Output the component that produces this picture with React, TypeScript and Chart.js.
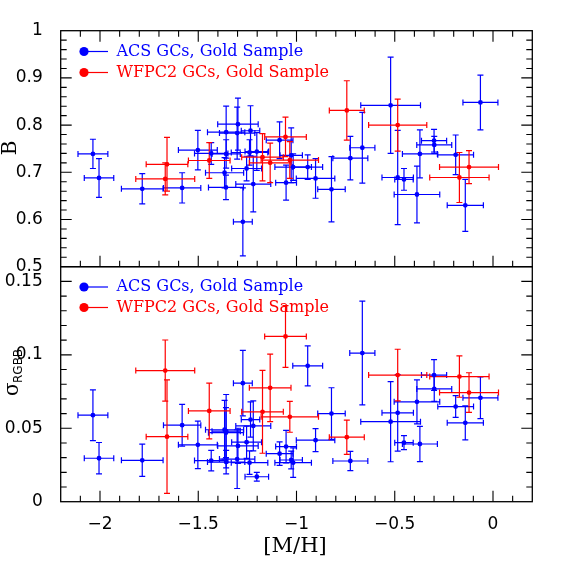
import React, { useEffect, useRef } from 'react';
import { Chart, registerables } from 'chart.js';

Chart.register(...registerables);

// ---------------- data ----------------
const X_TICKS = [-2, -1.5, -1, -0.5, 0];
const B_TICKS = [0.5, 0.6, 0.7, 0.8, 0.9, 1];
const SIG_TICKS = [0, 0.05, 0.1, 0.15];

const ACS_MH = [-2.036, -2.005, -1.785, -1.582, -1.502, -1.434, -1.366, -1.359, -1.358, -1.358, -1.298, -1.302, -1.234, -1.239, -1.202, -1.254, -1.22, -1.273, -1.086, -1.027, -1.017, -0.943, -1.053, -0.903, -0.822, -0.665, -0.726, -0.521, -0.485, -0.453, -0.387, -0.372, -0.3, -0.299, -0.19, -0.141, -0.064];
const ACS_MH_ERR = [0.076, 0.075, 0.106, 0.095, 0.099, 0.085, 0.097, 0.089, 0.095, 0.072, 0.103, 0.09, 0.047, 0.093, 0.06, 0.076, 0.089, 0.048, 0.068, 0.057, 0.093, 0.076, 0.053, 0.098, 0.07, 0.064, 0.089, 0.152, 0.08, 0.047, 0.116, 0.089, 0.064, 0.089, 0.091, 0.092, 0.089];
const ACS_B = [0.739, 0.688, 0.665, 0.667, 0.747, 0.74, 0.699, 0.668, 0.785, 0.739, 0.802, 0.783, 0.788, 0.742, 0.744, 0.708, 0.675, 0.595, 0.768, 0.736, 0.711, 0.711, 0.678, 0.687, 0.664, 0.752, 0.73, 0.842, 0.689, 0.685, 0.653, 0.739, 0.767, 0.758, 0.737, 0.63, 0.848];
const ACS_B_ERR = [0.031, 0.041, 0.032, 0.032, 0.042, 0.023, 0.032, 0.026, 0.055, 0.03, 0.055, 0.055, 0.053, 0.027, 0.04, 0.026, 0.059, 0.072, 0.039, 0.058, 0.028, 0.026, 0.037, 0.042, 0.069, 0.075, 0.046, 0.102, 0.1, 0.023, 0.06, 0.051, 0.024, 0.018, 0.042, 0.055, 0.058];
const ACS_SIG = [0.0589, 0.0296, 0.0282, 0.0521, 0.0387, 0.028, 0.049, 0.047, 0.027, 0.048, 0.038, 0.029, 0.0559, 0.0266, 0.017, 0.0405, 0.0516, 0.0807, 0.0327, 0.0284, 0.0266, 0.0925, 0.0375, 0.0419, 0.06, 0.1012, 0.0277, 0.0545, 0.0605, 0.0402, 0.068, 0.0393, 0.0862, 0.0768, 0.0648, 0.0537, 0.0707];
const ACS_SIG_ERR = [0.0173, 0.0107, 0.011, 0.0142, 0.0162, 0.007, 0.02, 0.017, 0.008, 0.025, 0.012, 0.02, 0.012, 0.008, 0.003, 0.011, 0.017, 0.0223, 0.008, 0.006, 0.01, 0.0136, 0.011, 0.0078, 0.0176, 0.0353, 0.0065, 0.0273, 0.026, 0.0048, 0.015, 0.012, 0.0105, 0.0085, 0.0074, 0.0116, 0.0142];

const WF_MH = [-1.668, -1.659, -1.444, -1.173, -1.134, -1.056, -1.034, -0.744, -0.485, -0.171, -0.122];
const WF_MH_ERR = [0.15, 0.106, 0.106, 0.106, 0.106, 0.106, 0.146, 0.089, 0.148, 0.151, 0.15];
const WF_B = [0.686, 0.717, 0.725, 0.732, 0.72, 0.775, 0.726, 0.831, 0.8, 0.689, 0.711];
const WF_B_ERR = [0.034, 0.057, 0.038, 0.05, 0.042, 0.042, 0.039, 0.063, 0.055, 0.053, 0.035];
const WF_SIG = [0.0893, 0.0443, 0.0618, 0.0612, 0.0775, 0.1125, 0.0578, 0.0439, 0.0862, 0.0852, 0.0743];
const WF_SIG_ERR = [0.0208, 0.0386, 0.019, 0.0282, 0.023, 0.021, 0.0105, 0.0117, 0.0176, 0.0141, 0.0135];

const ACS_LABEL = 'ACS GCs, Gold Sample';
const WF_LABEL = 'WFPC2 GCs, Gold Sample';
const X_TITLE = '[M/H]';

// ---------------- style ----------------
const BLUE = '#0000ff';
const RED = '#ff0000';
const TICK_FONT = 'DejaVu Sans';
const SERIF = 'DejaVu Serif';

const fmt = (v: number) => (v < 0 ? '\u2212' : '') + String(Math.abs(v));

type Spec = {
  yMin: number; yMax: number; yTicks: number[]; yMinor: number;
  padTop: number; padBottom: number; showX: boolean; topTicks: boolean;
  acsY: number[]; acsYErr: number[]; wfY: number[]; wfYErr: number[];
  legendY: [number, number]; title: 'B' | 'sigma';
};

const errPlugin = {
  id: 'errbars',
  beforeDatasetsDraw(chart: any) {
    const { ctx, scales } = chart;
    const xs = scales.x, ys = scales.y;
    const list = chart.data.datasets.slice();
    list.forEach((ds: any) => {
      ctx.save();
      ctx.strokeStyle = ds.errColor;
      ctx.lineWidth = 1.2;
      ds.data.forEach((p: any) => {
        const px = xs.getPixelForValue(p.x), py = ys.getPixelForValue(p.y);
        const x0 = xs.getPixelForValue(p.x - p.xe), x1 = xs.getPixelForValue(p.x + p.xe);
        const y0 = ys.getPixelForValue(p.y - p.ye), y1 = ys.getPixelForValue(p.y + p.ye);
        const c = 3;
        ctx.beginPath();
        ctx.moveTo(x0, py); ctx.lineTo(x1, py);
        ctx.moveTo(px, y0); ctx.lineTo(px, y1);
        ctx.moveTo(x0, py - c); ctx.lineTo(x0, py + c);
        ctx.moveTo(x1, py - c); ctx.lineTo(x1, py + c);
        ctx.moveTo(px - c, y0); ctx.lineTo(px + c, y0);
        ctx.moveTo(px - c, y1); ctx.lineTo(px + c, y1);
        ctx.stroke();
      });
      ctx.restore();
    });
  },
};

function decorPlugin(spec: Spec) {
  return {
    id: 'decor',
    afterDraw(chart: any) {
      const { ctx, chartArea: a, scales } = chart;
      const xs = scales.x, ys = scales.y;
      ctx.save();
      ctx.strokeStyle = '#000';
      ctx.lineWidth = 1.3;
      ctx.strokeRect(a.left, a.top, a.right - a.left, a.bottom - a.top);
      const MAJ = 11, MIN = 6;
      ctx.lineWidth = 1.1;
      ctx.beginPath();
      // x ticks
      for (let v = -2.2; v <= 0.2001; v += 0.1) {
        const vv = Math.round(v * 10) / 10;
        const px = xs.getPixelForValue(vv);
        const major = Math.abs(vv * 2 - Math.round(vv * 2)) < 1e-6;
        const L = major ? MAJ : MIN;
        if (px <= a.left + 0.5 || px >= a.right - 0.5) continue;
        ctx.moveTo(px, a.bottom); ctx.lineTo(px, a.bottom - L);
        if (spec.topTicks) { ctx.moveTo(px, a.top); ctx.lineTo(px, a.top + L); }
      }
      // y ticks
      const n = Math.round((spec.yMax - spec.yMin) / spec.yMinor);
      for (let i = 1; i < n + 1; i++) {
        const v = spec.yMin + i * spec.yMinor;
        if (v > spec.yMax + 1e-9) break;
        const py = ys.getPixelForValue(v);
        if (py <= a.top + 0.5) continue;
        const major = spec.yTicks.some((t) => Math.abs(t - v) < 1e-6);
        const L = major ? MAJ : MIN;
        ctx.moveTo(a.left, py); ctx.lineTo(a.left + L, py);
        ctx.moveTo(a.right, py); ctx.lineTo(a.right - L, py);
      }
      ctx.stroke();

      // legend
      const items: [string, string, number][] = [
        [ACS_LABEL, BLUE, spec.legendY[0]],
        [WF_LABEL, RED, spec.legendY[1]],
      ];
      items.forEach(([txt, col, yy]) => {
        ctx.strokeStyle = col;
        ctx.lineWidth = 1.2;
        ctx.beginPath(); ctx.moveTo(84, yy); ctx.lineTo(108, yy); ctx.stroke();
        ctx.fillStyle = col;
        ctx.beginPath(); ctx.arc(84, yy, 4.6, 0, Math.PI * 2); ctx.fill();
        ctx.font = `16px "${SERIF}"`;
        ctx.textAlign = 'left';
        ctx.textBaseline = 'middle';
        ctx.fillText(txt, 116.5, yy);
      });

      // axis titles
      ctx.fillStyle = '#000';
      if (spec.title === 'B') {
        ctx.save();
        ctx.translate(11, 148);
        ctx.rotate(-Math.PI / 2);
        ctx.font = `20px "${SERIF}"`;
        ctx.textAlign = 'center';
        ctx.textBaseline = 'middle';
        ctx.fillText('B', 0, 0);
        ctx.restore();
      } else {
        ctx.save();
        ctx.translate(12, 374);
        ctx.rotate(-Math.PI / 2);
        ctx.font = `20px "${SERIF}"`;
        ctx.textAlign = 'left';
        ctx.textBaseline = 'alphabetic';
        ctx.fillText('\u03c3', -22, 6);
        ctx.font = `12px "${TICK_FONT}"`;
        ctx.fillText('RGBB', -9, 10);
        ctx.restore();
      }
      if (spec.showX) {
        ctx.font = `21px "${SERIF}"`;
        ctx.textAlign = 'center';
        ctx.textBaseline = 'middle';
        ctx.fillText(X_TITLE, 295, 547);
      }
      ctx.restore();
    },
  };
}

function pts(xs: number[], xe: number[], ys: number[], ye: number[]) {
  return xs.map((x, i) => ({ x, y: ys[i], xe: xe[i], ye: ye[i] }));
}

function makeChart(canvas: HTMLCanvasElement, spec: Spec) {
  return new Chart(canvas, {
    type: 'scatter',
    data: {
      datasets: [
        {
          label: ACS_LABEL,
          data: pts(ACS_MH, ACS_MH_ERR, spec.acsY, spec.acsYErr),
          pointRadius: 2.4,
          pointBackgroundColor: BLUE,
          pointBorderWidth: 0,
          errColor: BLUE,
        } as any,
        {
          label: WF_LABEL,
          data: pts(WF_MH, WF_MH_ERR, spec.wfY, spec.wfYErr),
          pointRadius: 2.4,
          pointBackgroundColor: RED,
          pointBorderWidth: 0,
          errColor: RED,
        } as any,
      ],
    },
    options: {
      responsive: false,
      maintainAspectRatio: false,
      animation: false,
      events: [],
      layout: { padding: { left: 0, right: 29.7, top: spec.padTop, bottom: spec.padBottom } },
      plugins: { legend: { display: false }, tooltip: { enabled: false } },
      scales: {
        x: {
          type: 'linear',
          min: -2.2,
          max: 0.2,
          display: spec.showX,
          afterBuildTicks: (s: any) => { s.ticks = X_TICKS.map((v) => ({ value: v })); },
          afterFit: (s: any) => { s.height = spec.showX ? 60.3 : 0; },
          grid: { display: false },
          border: { display: false },
          ticks: {
            font: { family: TICK_FONT, size: 17 },
            color: '#000',
            padding: 5,
            maxRotation: 0,
            autoSkip: false,
            callback: (v: any) => fmt(Number(v)),
          },
        },
        y: {
          type: 'linear',
          min: spec.yMin,
          max: spec.yMax,
          afterBuildTicks: (s: any) => { s.ticks = spec.yTicks.map((v) => ({ value: v })); },
          afterFit: (s: any) => { s.width = 60.7; },
          grid: { display: false },
          border: { display: false },
          ticks: {
            font: { family: TICK_FONT, size: 17 },
            color: '#000',
            padding: 10,
            autoSkip: false,
            callback: (v: any) => fmt(Number(v)),
          },
        },
      },
    } as any,
    plugins: [errPlugin, decorPlugin(spec)],
  });
}

export default function App() {
  const topRef = useRef<HTMLCanvasElement>(null);
  const botRef = useRef<HTMLCanvasElement>(null);

  useEffect(() => {
    const top = makeChart(topRef.current!, {
      yMin: 0.5, yMax: 1, yTicks: B_TICKS, yMinor: 0.02,
      padTop: 30.7, padBottom: 295.3, showX: false, topTicks: true,
      acsY: ACS_B, acsYErr: ACS_B_ERR, wfY: WF_B, wfYErr: WF_B_ERR,
      legendY: [51.5, 72.5], title: 'B',
    });
    const bot = makeChart(botRef.current!, {
      yMin: 0, yMax: 0.16, yTicks: SIG_TICKS, yMinor: 0.01,
      padTop: 266.7, padBottom: 0, showX: true, topTicks: false,
      acsY: ACS_SIG, acsYErr: ACS_SIG_ERR, wfY: WF_SIG, wfYErr: WF_SIG_ERR,
      legendY: [287, 307.5], title: 'sigma',
    });
    return () => { top.destroy(); bot.destroy(); };
  }, []);

  const cs: React.CSSProperties = { position: 'absolute', left: 0, top: 0, width: 562, height: 562 };
  return (
    <div style={{ position: 'absolute', left: 0, top: 0, width: 562, height: 562, background: '#fff' }}>
      <canvas ref={botRef} width={562} height={562} style={cs} />
      <canvas ref={topRef} width={562} height={562} style={cs} />
    </div>
  );
}
